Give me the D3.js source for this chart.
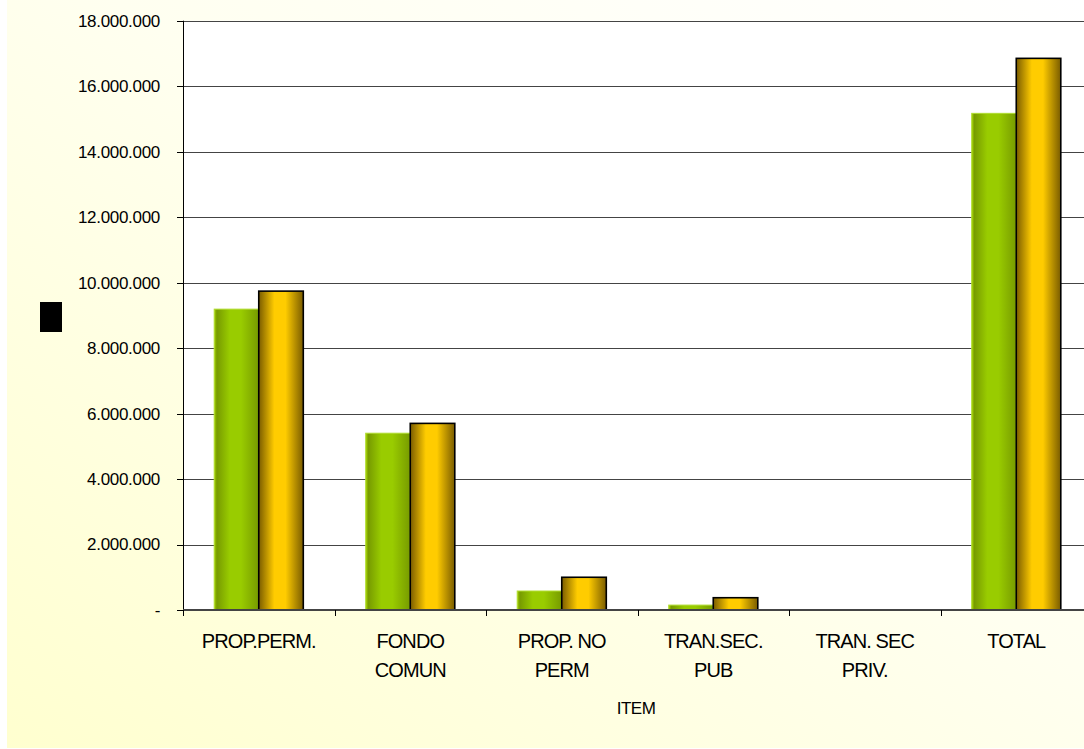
<!DOCTYPE html>
<html>
<head>
<meta charset="utf-8">
<script src="https://cdn.jsdelivr.net/npm/d3@7"></script>
<style>
  body { margin: 0; background: #fff; }
  svg { display: block; }
  text { font-family: "Liberation Sans", Arial, sans-serif; fill: #000; }
</style>
</head>
<body>
<div id="chart"></div>
<script>
// categories and values
const categories = ['PROP.PERM.', 'FONDO COMUN', 'PROP. NO PERM', 'TRAN.SEC. PUB', 'TRAN. SEC PRIV.', 'TOTAL'];
const categoryLines = [['PROP.PERM.'], ['FONDO', 'COMUN'], ['PROP. NO', 'PERM'], ['TRAN.SEC.', 'PUB'], ['TRAN. SEC', 'PRIV.'], ['TOTAL']];
const series = ['serie1', 'serie2'];
const serie1 = [9190000, 5400000, 580000, 150000, 0, 15170000];
const serie2 = [9740000, 5700000, 1000000, 375000, 0, 16850000];
const yTicks = [0, 2000000, 4000000, 6000000, 8000000, 10000000, 12000000, 14000000, 16000000, 18000000];

const width = 1084, height = 749;

const svg = d3.select('#chart')
    .append('svg')
    .attr('width', width)
    .attr('height', height);

const defs = svg.append('defs');

// chart area background: yellow bottom-left fading to white top-right
const bg = defs.append('linearGradient')
    .attr('id', 'bg')
    .attr('x1', '0%').attr('y1', '100%')
    .attr('x2', '100%').attr('y2', '0%');
bg.append('stop').attr('offset', '0%').attr('stop-color', '#ffffcf');
bg.append('stop').attr('offset', '55%').attr('stop-color', '#fffff0');
bg.append('stop').attr('offset', '100%').attr('stop-color', '#ffffff');

const gGreen = defs.append('linearGradient').attr('id', 'green').attr('x1', '0%').attr('x2', '100%');
[['0%', '#a6d600'], ['6%', '#779b00'], ['35%', '#99cc00'], ['60%', '#99cc00'], ['100%', '#779b00']]
    .forEach(([o, c]) => gGreen.append('stop').attr('offset', o).attr('stop-color', c));

const gGold = defs.append('linearGradient').attr('id', 'gold').attr('x1', '0%').attr('x2', '100%');
[['0%', '#7a5c00'], ['35%', '#ffcc00'], ['60%', '#ffcc00'], ['100%', '#7a5c00']]
    .forEach(([o, c]) => gGold.append('stop').attr('offset', o).attr('stop-color', c));

svg.append('rect')
    .attr('x', 7).attr('y', 0)
    .attr('width', width - 7).attr('height', height - 1)
    .attr('fill', 'url(#bg)');

const plotLeft = 183, plotRight = 1092, plotTop = 20.7, plotBottom = 610;

const y = d3.scaleLinear().domain([0, 18000000]).range([plotBottom, plotTop]);
const x = d3.scaleBand().domain(categories).range([plotLeft, plotRight]);
const bw = x.bandwidth();
const x1 = d3.scaleBand().domain(series).range([bw * 0.206, bw * 0.794]);

// plot area
svg.append('rect')
    .attr('x', plotLeft).attr('y', plotTop)
    .attr('width', plotRight - plotLeft).attr('height', plotBottom - plotTop)
    .attr('fill', '#fff');

// gridlines
svg.append('g')
    .selectAll('line')
    .data(yTicks.filter(d => d > 0))
    .enter()
    .append('line')
    .attr('x1', plotLeft).attr('x2', width)
    .attr('y1', d => Math.round(y(d)) + 0.5)
    .attr('y2', d => Math.round(y(d)) + 0.5)
    .attr('stroke', '#444')
    .attr('stroke-width', 1);

// bars
const fmt = d3.format(',.0f');
const rows = categories.map((c, i) => ({ cat: c, values: [serie1[i], serie2[i]] }));

const groups = svg.append('g')
    .selectAll('g')
    .data(rows)
    .enter()
    .append('g')
    .attr('transform', d => `translate(${x(d.cat)},0)`);

groups.selectAll('rect')
    .data(d => d.values.map((v, j) => ({ s: series[j], v })))
    .enter()
    .append('rect')
    .filter(d => d.v > 0)
    .attr('x', d => x1(d.s))
    .attr('y', d => y(d.v))
    .attr('width', x1.bandwidth())
    .attr('height', d => y(0) - y(d.v))
    .attr('fill', d => d.s === 'serie1' ? 'url(#green)' : 'url(#gold)')
    .attr('stroke', d => d.s === 'serie1' ? '#b0dc30' : '#000')
    .attr('stroke-width', d => d.s === 'serie1' ? 1 : 1.6);

// y axis
const yAxis = svg.append('g');
yAxis.append('line')
    .attr('x1', plotLeft + 0.5).attr('x2', plotLeft + 0.5)
    .attr('y1', plotTop).attr('y2', plotBottom + 6)
    .attr('stroke', '#000').attr('stroke-width', 1);

yAxis.selectAll('line.tick')
    .data(yTicks)
    .enter()
    .append('line')
    .attr('class', 'tick')
    .attr('x1', plotLeft - 6).attr('x2', plotLeft)
    .attr('y1', d => Math.round(y(d)) + 0.5)
    .attr('y2', d => Math.round(y(d)) + 0.5)
    .attr('stroke', '#000');

yAxis.selectAll('text')
    .data(yTicks)
    .enter()
    .append('text')
    .attr('x', 160)
    .attr('y', d => y(d))
    .attr('dy', '0.35em')
    .attr('text-anchor', 'end')
    .attr('font-size', '17px')
    .attr('letter-spacing', '-0.3px')
    .text(d => d === 0 ? '-' : fmt(d).replace(/,/g, '.'));

// x axis
const xAxis = svg.append('g');
xAxis.append('line')
    .attr('x1', plotLeft).attr('x2', width)
    .attr('y1', plotBottom).attr('y2', plotBottom)
    .attr('stroke', '#444').attr('stroke-width', 2);

xAxis.selectAll('line.tick')
    .data(categories)
    .enter()
    .append('line')
    .attr('class', 'tick')
    .attr('x1', d => Math.round(x(d)) + 0.5)
    .attr('x2', d => Math.round(x(d)) + 0.5)
    .attr('y1', plotBottom).attr('y2', plotBottom + 6)
    .attr('stroke', '#000');

xAxis.selectAll('text')
    .data(categories)
    .enter()
    .append('text')
    .attr('x', d => x(d) + bw / 2)
    .attr('y', 648)
    .attr('text-anchor', 'middle')
    .attr('font-size', '20px')
    .attr('letter-spacing', '-0.9px')
    .each(function (d, i) {
        const t = d3.select(this);
        categoryLines[i].forEach((line, k) => {
            t.append('tspan')
                .attr('x', x(d) + bw / 2)
                .attr('dy', k === 0 ? 0 : 29)
                .text(line);
        });
    });

// axis title
svg.append('text')
    .attr('x', 636)
    .attr('y', 714)
    .attr('text-anchor', 'middle')
    .attr('font-size', '17px')
    .attr('letter-spacing', '-0.5px')
    .text('ITEM');

// y axis title renders as a black block in the reference
svg.append('rect')
    .attr('x', 40).attr('y', 302)
    .attr('width', 22).attr('height', 30)
    .attr('fill', '#000');
</script>
</body>
</html>
